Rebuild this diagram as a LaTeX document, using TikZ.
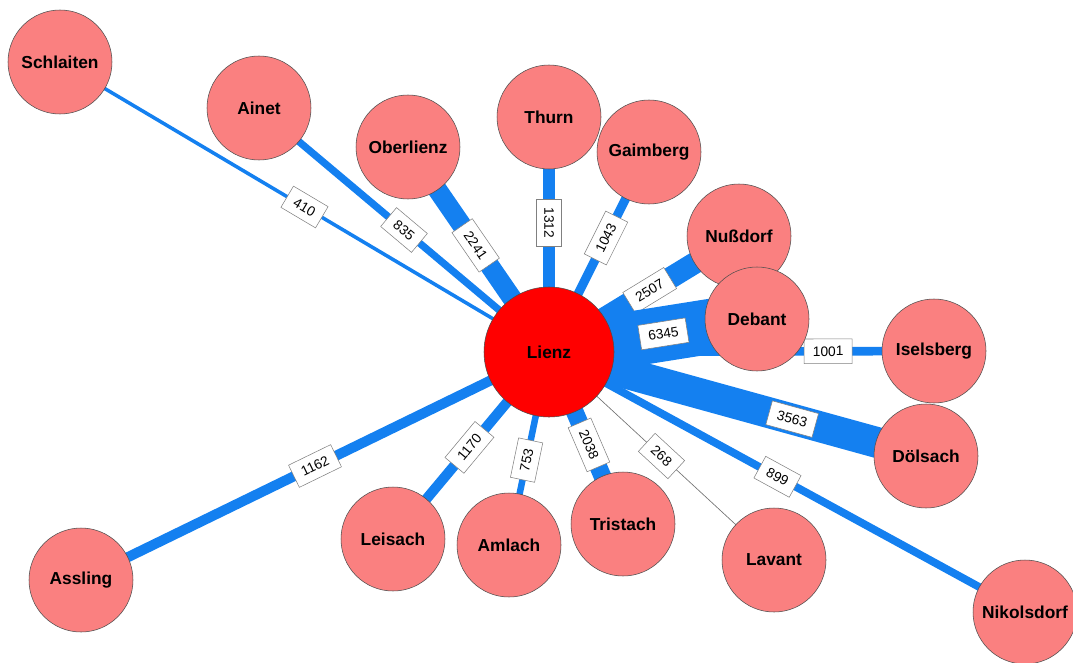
\documentclass[tikz,border=0pt]{standalone}
\usepackage{fontspec}
\setmainfont{Liberation Sans}
\usetikzlibrary{positioning,backgrounds}
\definecolor{townPink}{RGB}{250,128,128}
\definecolor{hubRed}{RGB}{255,0,0}
\definecolor{flowBlue}{RGB}{20,128,240}
\tikzset{
   netTown/.style = {
         circle,
         draw = black!70,
         fill = townPink,
         line width = 0.4pt,
         minimum size = 78pt,
         inner sep = 0pt,
         font = \bfseries\fontsize{13}{15}\selectfont,
      },
   netHub/.style = {
         netTown,
         fill = hubRed,
         minimum size = 97.5pt,
      },
   netFlow/.style = {
         draw = flowBlue,
         line width = #1*0.0065pt,
      },
   netThin/.style = {
         draw = black!55,
         line width = 0.5pt,
      },
   netCount/.style = {
         rectangle,
         draw = black!50,
         fill = white,
         line width = 0.4pt,
         inner xsep = 6.5pt,
         inner ysep = 0pt,
         minimum height = 18.5pt,
         sloped,
         font = \fontsize{10.3}{12}\selectfont,
      },
}

\begin{document}
\begin{tikzpicture}[x=0.75pt, y=-0.75pt]
\useasboundingbox (0,0) rectangle (1073,663);

% Place nodes
\node [netHub] (lienz) at (549,352) {Lienz};

\node [netTown] (schlaiten) at (60,62) {Schlaiten};
\node [netTown] (ainet) at (259,108) {Ainet};
\node [netTown] (oberlienz) at (408,147) {Oberlienz};
\node [netTown] (thurn) at (549,117) {Thurn};
\node [netTown] (gaimberg) at (649,152) {Gaimberg};
\node [netTown] (nussdorf) at (739,236) {Nußdorf};
\node [netTown] (debant) at (757,319) {Debant};
\node [netTown] (iselsberg) at (934,351) {Iselsberg};
\node [netTown] (doelsach) at (926,456) {Dölsach};
\node [netTown] (nikolsdorf) at (1025,612) {Nikolsdorf};
\node [netTown] (lavant) at (774,560) {Lavant};
\node [netTown] (tristach) at (623,524) {Tristach};
\node [netTown] (amlach) at (509,545) {Amlach};
\node [netTown] (leisach) at (393,539) {Leisach};
\node [netTown] (assling) at (81,580) {Assling};

% Draw edges
\begin{pgfonlayer}{background}
\path [netFlow=410] (lienz.center) -- node [netCount, pos=0.5] {410} (schlaiten.center);
\path [netFlow=835] (lienz.center) -- node [netCount, pos=0.5] {835} (ainet.center);
\path [netFlow=2241] (lienz.center) -- node [netCount, pos=0.52] {2241} (oberlienz.center);
\path [netFlow=1312] (thurn.center) -- node [netCount, pos=0.45] {1312} (lienz.center);
\path [netFlow=1043] (lienz.center) -- node [netCount, pos=0.57] {1043} (gaimberg.center);
\path [netFlow=2507] (lienz.center) -- node [netCount, pos=0.53] {2507} (nussdorf.center);
\path [netFlow=1001] (lienz.center) -- node [netCount, pos=0.725] {1001} (iselsberg.center);
\path [netFlow=6345] (lienz.center) -- node [netCount, pos=0.55] {6345} (debant.center);
\path [netFlow=3563] (lienz.center) -- node [netCount, pos=0.645] {3563} (doelsach.center);
\path [netFlow=899] (lienz.center) -- node [netCount, pos=0.48] {899} (nikolsdorf.center);
\path [netThin] (lienz.center) -- node [netCount, pos=0.5] {268} (lavant.center);
\path [netFlow=2038] (lienz.center) -- node [netCount, pos=0.54] {2038} (tristach.center);
\path [netFlow=753] (lienz.center) -- node [netCount, pos=0.56] {753} (amlach.center);
\path [netFlow=1170] (lienz.center) -- node [netCount, pos=0.51] {1170} (leisach.center);
\path [netFlow=1162] (lienz.center) -- node [netCount, pos=0.5] {1162} (assling.center);
\end{pgfonlayer}

\end{tikzpicture}
\end{document}
